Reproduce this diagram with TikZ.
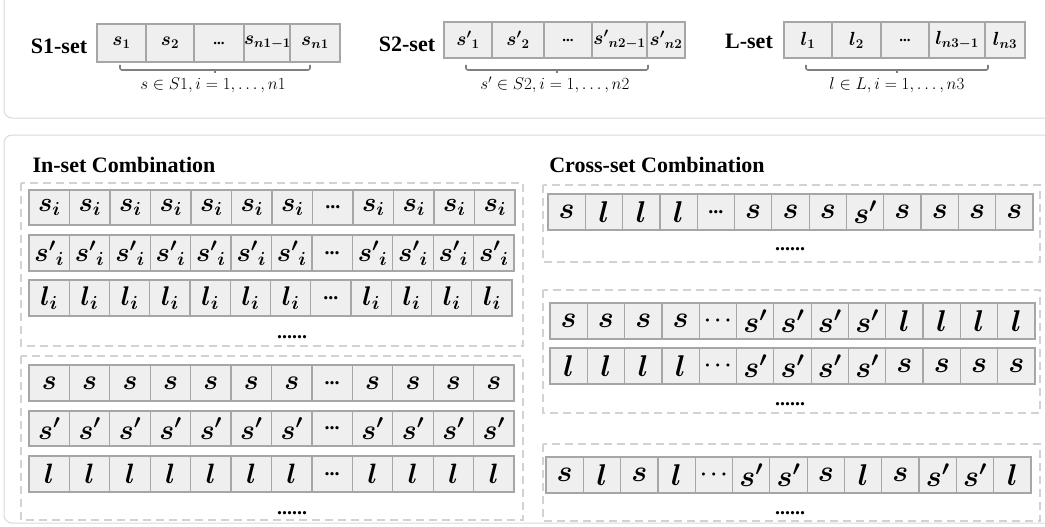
\RequirePackage{fix-cm}
\documentclass[tikz,border=0pt]{standalone}
\usepackage{fontspec}
\setmainfont{Liberation Serif}
\definecolor{cellfill}{HTML}{EFEFEF}
\definecolor{cellline}{HTML}{A6A6A6}
\definecolor{panelline}{HTML}{D9D9D9}
\definecolor{dashline}{HTML}{D2D2D2}
\definecolor{braceline}{HTML}{808080}
\tikzset{
  cellbox/.style={draw=cellline, fill=cellfill, line width=1.2pt, inner sep=0pt, outer sep=0pt, anchor=north west},
  panel/.style={draw=panelline, line width=1pt, rounded corners=8pt},
  groupbox/.style={draw=dashline, line width=1.5pt, dash pattern=on 8pt off 5pt},
  setlabel/.style={font=\fontsize{22}{26}\selectfont\bfseries, anchor=base, inner sep=0pt},
  bracetext/.style={font=\fontsize{17}{20}\selectfont, anchor=base, inner sep=0pt},
  brace/.style={draw=braceline, line width=1.6pt, rounded corners=2pt},
  moredots/.style={font=\fontsize{20}{24}\selectfont\bfseries, anchor=base, inner sep=0pt},
}
\newcommand\dotsb[1]{\mbox{\fontsize{#1}{#1}\selectfont\bfseries ...}}
\newcommand\cdotsb{\mbox{\fontsize{20}{20}\selectfont$\cdots$}}
% equal-width row: name, count, x0, y0, x1, y1, font size, list
\newcommand\eqrow[8]{%
  \pgfmathsetmacro\cw{(#5-#3)/#2}%
  \pgfmathsetmacro\ch{#6-#4}%
  \foreach \t [count=\k] in {#8} {%
    \node[cellbox, minimum width=\cw pt, minimum height=\ch pt,
          font=\fontsize{#7}{#7}\selectfont\boldmath] (#1-\k) at ({#3+(\k-1)*\cw},#4) {$\t$};
  }%
}
% variable-width row: name, y0, y1, list of a/b/text
\newcommand\varrow[4]{%
  \pgfmathsetmacro\ch{#3-#2}%
  \foreach \a/\b/\t [count=\k] in {#4} {%
    \pgfmathsetmacro\w{\b-\a}%
    \node[cellbox, minimum width=\w pt, minimum height=\ch pt,
          font=\fontsize{19}{19}\selectfont\boldmath] (#1-\k) at (\a,#2) {$\t$};
  }%
}
\begin{document}
\begin{tikzpicture}[x=1pt,y=-1pt]
\useasboundingbox (0,0) rectangle (1045,527);
\clip (0,0) rectangle (1045,527);
% panels
\draw[panel] (4,-20) rectangle (1070,118);
\draw[panel] (4,135) rectangle (1070,523);

% ---------- top: sets ----------
\node[setlabel] (s1lab) at (59,54) {S1-set};
\varrow{sa}{24}{62}{97/146/{s_1}, 146/194/{s_2}, 194/244/{\dotsb{15}}, 244/290/{s_{n1-1}}, 290/340/{s_{n1}}}
\draw[brace] (120,65) -- (120,70) -- (310,70) -- (310,65);
\draw[brace, rounded corners=0pt] (215,70) -- (215,73);
\node[bracetext] (s1txt) at (213,90) {$s\in S1, i=1,\ldots,n1$};

\node[setlabel] (s2lab) at (407,52) {S2-set};
\varrow{sb}{22}{58}{444/492/{{s'}_1}, 492/544/{{s'}_2}, 544/592/{\dotsb{15}}, 592/647/{{s'}_{n2-1}}, 647/685/{{s'}_{n2}}}
\draw[brace] (466,65) -- (466,70) -- (648,70) -- (648,65);
\draw[brace, rounded corners=0pt] (557,70) -- (557,73);
\node[bracetext] (s2txt) at (555,90) {$s'\in S2, i=1,\ldots,n2$};

\node[setlabel] (llab) at (749,49) {L-set};
\varrow{lc}{22}{58}{784/832/{l_1}, 832/881/{l_2}, 881/929/{\dotsb{15}}, 929/985/{l_{n3-1}}, 985/1025/{l_{n3}}}
\draw[brace] (806,65) -- (806,70) -- (988,70) -- (988,65);
\draw[brace, rounded corners=0pt] (897,70) -- (897,73);
\node[bracetext] (ltxt) at (897,90) {$l\in L, i=1,\ldots,n3$};

% ---------- In-set ----------
\node[setlabel] (inlab) at (124,172) {In-set Combination};
\draw[groupbox] (21,183) rectangle (523,346);
\draw[groupbox] (21,356) rectangle (523,520);
\eqrow{ia}{12}{29}{190}{515}{225}{27}{s_i,s_i,s_i,s_i,s_i,s_i,s_i,\dotsb{20},s_i,s_i,s_i,s_i}
\eqrow{ib}{12}{29}{235}{514}{271}{27}{{s'}_i,{s'}_i,{s'}_i,{s'}_i,{s'}_i,{s'}_i,{s'}_i,\dotsb{20},{s'}_i,{s'}_i,{s'}_i,{s'}_i}
\eqrow{ic}{12}{29}{280}{512}{316}{27}{l_i,l_i,l_i,l_i,l_i,l_i,l_i,\dotsb{20},l_i,l_i,l_i,l_i}
\node[moredots] (idots1) at (292,338) {......};
\eqrow{id}{12}{29}{365}{514}{401}{28}{s,s,s,s,s,s,s,\dotsb{20},s,s,s,s}
\eqrow{ie}{12}{29}{411}{514}{446}{28}{s',s',s',s',s',s',s',\dotsb{20},s',s',s',s'}
\eqrow{if}{12}{29}{456}{514}{492}{28}{l,l,l,l,l,l,l,\dotsb{20},l,l,l,l}
\node[moredots] (idots2) at (292,514) {......};

% ---------- Cross-set ----------
\node[setlabel] (crlab) at (657,172) {Cross-set Combination};
\draw[groupbox] (543,185) rectangle (1040,262);
\eqrow{ca}{13}{548}{194}{1033}{230}{30}{s,l,l,l,\dotsb{20},s,s,s,s',s,s,s,s}
\node[moredots] (cdots1) at (790,250) {......};

\draw[groupbox] (543,290) rectangle (1040,413);
\eqrow{cb}{13}{550}{303}{1035}{339}{30}{s,s,s,s,\cdotsb,s',s',s',s',l,l,l,l}
\eqrow{cc}{13}{550}{348}{1035}{384}{30}{l,l,l,l,\cdotsb,s',s',s',s',s,s,s,s}
\node[moredots] (cdots2) at (790,405) {......};

\draw[groupbox] (543,444) rectangle (1040,521);
\eqrow{cd}{13}{546}{457}{1031}{493}{30}{s,l,s,l,\cdotsb,s',s',s,l,s,s',s',l}
\node[moredots] (cdots3) at (790,514) {......};
\end{tikzpicture}
\end{document}
